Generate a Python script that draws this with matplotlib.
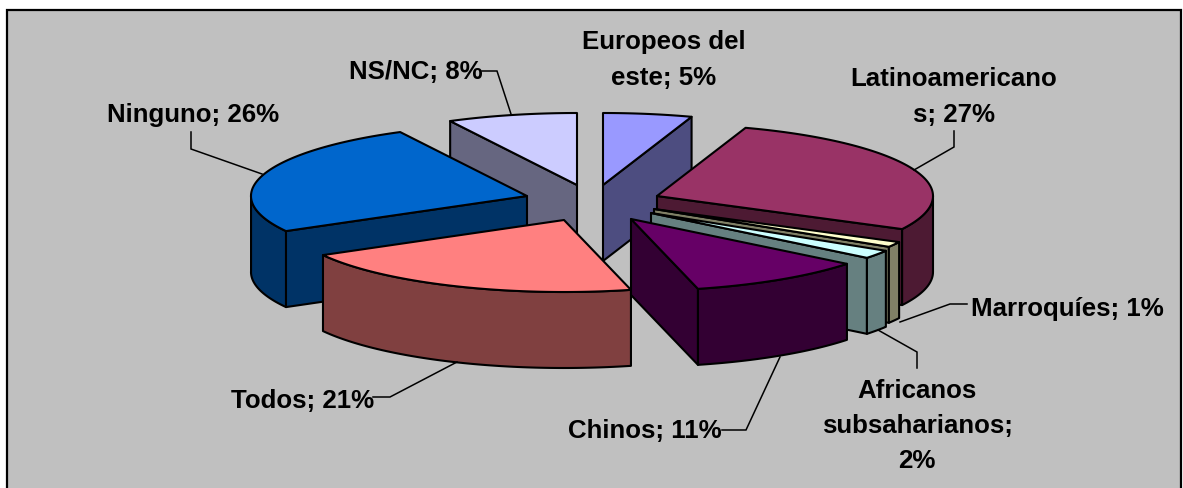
import numpy as np
import matplotlib
matplotlib.use("Agg")
import matplotlib.pyplot as plt
from matplotlib.patches import Polygon, Rectangle

# Data: label text and slice shares (percent)
categories = ["Europeos del este", "Latinoamericanos", "Marroquíes",
              "Africanos subsaharianos", "Chinos", "Todos", "Ninguno", "NS/NC"]
values = [5.2, 27.4, 1.2, 1.9, 10.4, 20.8, 25.5, 7.6]
tick_labels = ["Europeos del\neste; 5%", "Latinoamericano\ns; 27%", "Marroquíes; 1%",
               "Africanos\nsubsaharianos;\n2%", "Chinos; 11%", "Todos; 21%",
               "Ninguno; 26%", "NS/NC; 8%"]

# Styles and layout
top_colors = ["#9999FF", "#993366", "#FFFFCC", "#CCFFFF", "#660066", "#FF8080", "#0066CC", "#CCCCFF"]
wall_colors = ["#4D4D80", "#4D1A33", "#808066", "#668080", "#330033", "#804040", "#003366", "#666680"]
tips = [(603, 186), (657, 197), (654, 210), (651, 214), (631, 220), (564, 221), (527, 197), (577, 186)]
draw_order = [7, 0, 1, 2, 3, 6, 5, 4]
RX, RY, H = 276, 72, 76
LW = 1.5

label_pos = [(664, 60), (954, 97), (1067, 309), (917, 426), (645, 431), (303, 401), (193, 115), (416, 72)]
leaders = [None,
           [(954, 132), (954, 148), (914, 171)],
           [(967, 305), (950, 305), (900, 323)],
           [(917, 369), (917, 353), (878, 331)],
           [(722, 431), (746, 431), (780, 358)],
           [(373, 398), (390, 398), (457, 363)],
           [(191, 133), (191, 150), (262, 175)],
           [(482, 72), (497, 72), (511, 115)]]

fig = plt.figure(figsize=(11.83, 4.89), dpi=100, facecolor="white")
ax = fig.add_axes([0, 0, 1, 1])
ax.set_xlim(0, 1183)
ax.set_ylim(489, 0)
ax.axis("off")

ax.add_patch(Rectangle((7, 11), 1174, 490, facecolor="#C0C0C0", edgecolor="black", lw=1.6, zorder=0))


def pt(tip, th):
    return tip[0] + RX * np.sin(th), tip[1] - RY * np.cos(th)


edges = np.deg2rad(np.concatenate([[0], np.cumsum(values)]) / sum(values) * 360)
z = 1
for i in draw_order:
    tip, t0, t1 = tips[i], edges[i], edges[i + 1]
    angles = np.linspace(t0, t1, 80)
    arc = np.array([pt(tip, t) for t in angles])
    kw = dict(edgecolor="black", lw=LW, joinstyle="round")
    # radial walls that face the viewer
    for th, visible in ((t0, np.sin(t0) < -1e-6), (t1, np.sin(t1) > 1e-6)):
        if visible:
            p = pt(tip, th)
            wall = [tip, p, (p[0], p[1] + H), (tip[0], tip[1] + H)]
            ax.add_patch(Polygon(wall, facecolor=wall_colors[i], zorder=z, **kw))
            z += 1
    # outer wall: only the part of the rim on the near side
    front = arc[np.cos(angles) <= 0.02]
    if len(front) > 1:
        low = front + np.array([0, H])
        ax.add_patch(Polygon(np.vstack([front, low[::-1]]), facecolor=wall_colors[i], zorder=z, **kw))
        z += 1
    # top face
    ax.add_patch(Polygon(np.vstack([[tip], arc]), facecolor=top_colors[i], zorder=z, **kw))
    z += 1

for pts in leaders:
    if pts:
        xs, ys = zip(*pts)
        ax.plot(xs, ys, color="black", lw=1.1, zorder=z, solid_joinstyle="miter")

for txt, (x, y) in zip(tick_labels, label_pos):
    ax.text(x, y, txt, ha="center", va="center", family="Liberation Sans", weight="bold",
            fontsize=18.6, color="black", linespacing=1.58, zorder=z + 1)

fig.savefig("out.png", dpi=100, facecolor="white")
